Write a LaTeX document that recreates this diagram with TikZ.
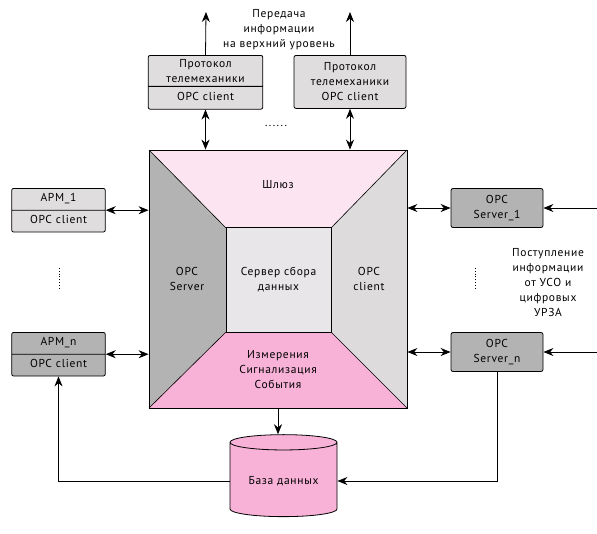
\documentclass[tikz,border=0pt]{standalone}
\usepackage{fontspec}
\setmainfont{PT Sans}[LetterSpace=6]
\usetikzlibrary{positioning,shapes.geometric,shapes.multipart,arrows.meta}
\definecolor{gwpink}{HTML}{FCE5F0}
\definecolor{evpink}{HTML}{F8B2D7}
\definecolor{darkgr}{HTML}{B3B3B3}
\definecolor{lightgr}{HTML}{DEDBDC}
\definecolor{centergr}{HTML}{E8E6E8}
\definecolor{boxgr}{HTML}{E0DDDE}
\newcommand{\rowstrut}{\rule[-4.5pt]{0pt}{14pt}}

\begin{document}
\begin{tikzpicture}[x=1pt,y=-1pt,>={Stealth[length=10pt,width=8pt]},line width=0.8pt,
        font=\fontsize{11.5}{15}\selectfont,
        box/.style={rectangle,draw,rounded corners=2pt,align=center,inner sep=2pt},
        split box/.style={rectangle split,rectangle split parts=2,draw,rounded corners=2pt,
            align=center,inner ysep=3.5pt},
        label text/.style={align=center,inner sep=1pt}]

    \useasboundingbox (0,0) rectangle (597,533);

    % square of the gateway
    \coordinate (A) at (149,150);
    \coordinate (B) at (407,150);
    \coordinate (C) at (407,408);
    \coordinate (D) at (149,408);
    \coordinate (a) at (226,228);
    \coordinate (b) at (331,228);
    \coordinate (c) at (331,332);
    \coordinate (d) at (226,332);
    \fill[gwpink] (A) -- (B) -- (b) -- (a) -- cycle;
    \fill[darkgr] (A) -- (a) -- (d) -- (D) -- cycle;
    \fill[lightgr] (B) -- (C) -- (c) -- (b) -- cycle;
    \fill[evpink] (D) -- (d) -- (c) -- (C) -- cycle;
    \draw[line width=0.6pt] (A) -- (a) (B) -- (b) (C) -- (c) (D) -- (d);
    \node[draw,minimum width=258pt,minimum height=258pt,inner sep=0pt] (gw) at (278,279) {};
    \node[draw,fill=centergr,minimum size=105pt,align=center] (collect) at (278.5,280) {Сервер сбора\\данных};

    \node[label text] (gwlabel) at (278,185) {Шлюз};
    \node[label text] (opcsrv) at (187,279) {OPC\\Server};
    \node[label text] (opccli) at (369,279) {OPC\\client};
    \node[label text] (events) at (278,370) {Измерения\\Сигнализация\\События};

    % telemechanics boxes
    \node[split box,fill=boxgr,text width=108pt,anchor=north] (tm1) at (205.5,55)
        {Протокол\\телемеханики \nodepart{second} \rule[-5pt]{0pt}{15pt}OPC client};
    \node[box,fill=boxgr,text width=108pt,minimum height=53pt,anchor=north,inner ysep=3.5pt] (tm2) at (350,55)
        {Протокол\\телемеханики\\OPC client};
    \node[label text] (updesc) at (279,30) {Передача\\информации\\на верхний уровень};
    \node (tmdots) at (276,126) {......};
    \coordinate (up1) at (206,12);
    \coordinate (up2) at (350,12);

    % workstations
    \node[split box,fill=boxgr,text width=87pt,anchor=north] (arm1) at (58.5,188)
        {\rowstrut АРМ\_1 \nodepart{second} \rowstrut OPC client};
    \node[split box,fill=darkgr,text width=87pt,anchor=north] (armn) at (58.5,332)
        {\rowstrut АРМ\_n \nodepart{second} \rowstrut OPC client};

    % OPC servers
    \node[box,fill=darkgr,minimum width=92pt,minimum height=39pt] (srv1) at (497,208) {OPC\\Server\_1};
    \node[box,fill=darkgr,minimum width=92pt,minimum height=39pt] (srvn) at (497,352) {OPC\\Server\_n};
    \node[label text] (indesc) at (548,283) {Поступление\\информации\\от УСО и\\цифровых\\УРЗА};
    \coordinate (in1) at (597,208);
    \coordinate (inn) at (597,352);

    \draw[dotted] (59,268) -- (59,290);
    \draw[dotted] (475,268) -- (475,290);

    % database
    \node[cylinder,shape border rotate=90,draw,fill=evpink,minimum width=107pt,minimum height=82pt,
        aspect=0.2] (db) at (283.5,481) {База данных};

    % connectors
    \draw[->] (tm1.north) -- (up1);
    \draw[->] (tm2.north) -- (up2);
    \draw[<->] (tm1.south) -- (tm1.south |- gw.north);
    \draw[<->] (tm2.south) -- (tm2.south |- gw.north);
    \draw[<->] (arm1.east) -- (gw.west |- arm1.east);
    \draw[<->] (armn.east) -- (gw.west |- armn.east);
    \draw[<->] (gw.east |- srv1) -- (srv1.west);
    \draw[<->] (gw.east |- srvn) -- (srvn.west);
    \draw[<-] (srv1.east) -- (in1);
    \draw[<-] (srvn.east) -- (inn);
    \draw[->] (gw.south) -- (gw.south |- db.north);
    \draw[->] (srvn.south) |- (db.east);
    \draw[->] (db.west) -| (armn.south);

\end{tikzpicture}
\end{document}
